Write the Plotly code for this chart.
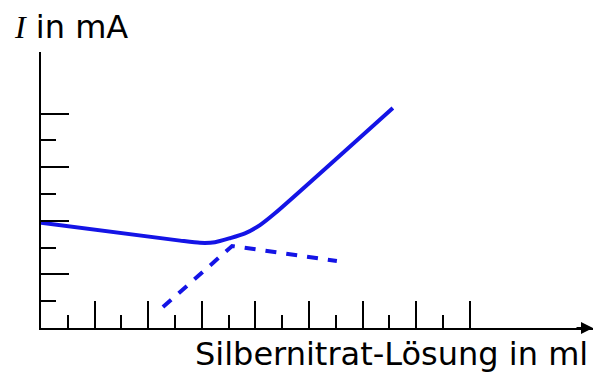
import plotly.graph_objects as go

# Data (axis units = tick spacing)
solid_x = [0.0, 5.19, 5.93, 6.49, 7.05, 7.61, 8.17, 8.73, 13.13]
solid_y = [3.93, 3.26, 3.18, 3.20, 3.35, 3.53, 3.84, 4.28, 8.21]
dash_x = [4.55, 7.13, 11.04]
dash_y = [0.78, 3.06, 2.50]

x_major = [2, 4, 6, 8, 10, 12, 14, 16]
x_minor = [1, 3, 5, 7, 9, 11, 13, 15]
y_major = [2, 4, 6, 8]
y_minor = [1, 3, 5, 7]

y_label = "<span style='font-family:Liberation Serif'><i>I</i></span> in mA"
x_label = "Silbernitrat-Lösung in ml"

BLUE = "#1414e6"
W, H = 594, 374
L, R, T, B = 41, 1, 52, 46
UNIT = 26.8
xr = (W - L - R) / UNIT
yr = (H - T - B) / UNIT

fig = go.Figure()
fig.add_trace(go.Scatter(x=solid_x, y=solid_y, mode="lines",
                         line=dict(color=BLUE, width=4, shape="spline", smoothing=0.6),
                         hoverinfo="skip", showlegend=False, cliponaxis=False))
fig.add_trace(go.Scatter(x=dash_x, y=dash_y, mode="lines",
                         line=dict(color=BLUE, width=4, dash="11px,10px"),
                         hoverinfo="skip", showlegend=False, cliponaxis=False))

fig.update_layout(
    width=W, height=H,
    margin=dict(l=L, r=R, t=T, b=B),
    paper_bgcolor="white", plot_bgcolor="white",
    font=dict(family="DejaVu Sans", color="black"),
    xaxis=dict(range=[0, xr], showgrid=False, zeroline=False, showline=True,
               linecolor="black", linewidth=2, showticklabels=False,
               ticks="inside", tickmode="array", tickvals=x_major,
               ticklen=27, tickwidth=2, tickcolor="black",
               minor=dict(ticks="inside", tickvals=x_minor, ticklen=13,
                          tickwidth=2, tickcolor="black", showgrid=False)),
    yaxis=dict(range=[0, yr], showgrid=False, zeroline=False, showline=True,
               linecolor="black", linewidth=2, showticklabels=False,
               ticks="inside", tickmode="array", tickvals=y_major,
               ticklen=28, tickwidth=2, tickcolor="black",
               minor=dict(ticks="inside", tickvals=y_minor, ticklen=15,
                          tickwidth=2, tickcolor="black", showgrid=False)),
)

pw, ph = W - L - R, H - T - B
# arrow heads
fig.add_annotation(x=xr, y=0, xref="x", yref="y", ax=-18, ay=0,
                   showarrow=True, arrowhead=2, arrowsize=1.2, arrowwidth=2,
                   arrowcolor="black", text="")
fig.add_annotation(x=0, y=yr + (2 / UNIT), xref="x", yref="y", ax=0, ay=22,
                   showarrow=True, arrowhead=2, arrowsize=1.0, arrowwidth=2,
                   arrowcolor="black", text="")

fig.add_annotation(text=y_label, xref="paper", yref="paper",
                   x=(12 - L) / pw, y=(H - B - 27) / ph,
                   xanchor="left", yanchor="middle", showarrow=False,
                   font=dict(size=32, family="DejaVu Sans", color="black"))
fig.add_annotation(text=x_label, xref="paper", yref="paper",
                   x=(193 - L) / pw, y=(H - B - 354) / ph,
                   xanchor="left", yanchor="middle", showarrow=False,
                   font=dict(size=32, family="DejaVu Sans", color="black"))

fig.write_html("out.html", config={"displayModeBar": False},
               post_script="document.body.style.margin='0';")
